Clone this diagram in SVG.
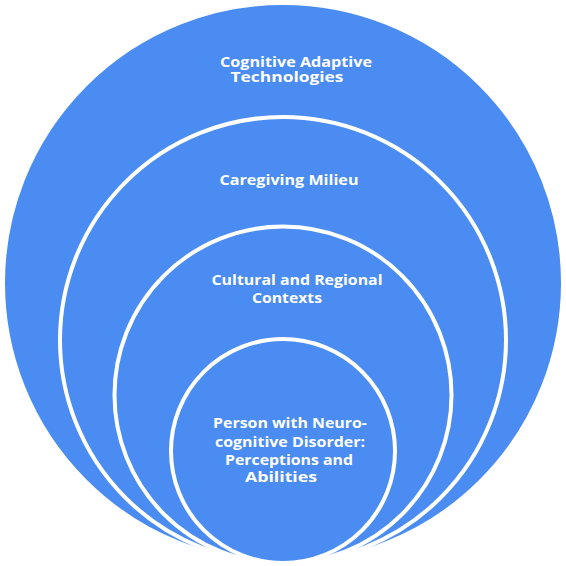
<svg xmlns="http://www.w3.org/2000/svg" width="566" height="566" viewBox="0 0 566 566">
  <defs>
    <style>
      .ring { fill: #4a8cf1; stroke: #ffffff; stroke-width: 4; }
      .lbl { fill: #ffffff; font-family: "Open Sans", "Liberation Sans", sans-serif; font-weight: bold; font-size: 15px; text-anchor: middle; }
    </style>
  </defs>
  <rect width="566" height="566" fill="#ffffff"/>
  <g id="connectors"/>
  <g id="node-technologies">
    <circle class="ring" cx="283" cy="283" r="280"/>
    <text class="lbl" x="296" y="67" textLength="152" lengthAdjust="spacingAndGlyphs">Cognitive Adaptive</text>
    <text class="lbl" x="287" y="82" textLength="113" lengthAdjust="spacingAndGlyphs">Technologies</text>
  </g>
  <g id="node-caregiving">
    <circle class="ring" cx="283" cy="340" r="223"/>
    <text class="lbl" x="289" y="185" textLength="139" lengthAdjust="spacingAndGlyphs">Caregiving Milieu</text>
  </g>
  <g id="node-cultural">
    <circle class="ring" cx="283" cy="395" r="168.5"/>
    <text class="lbl" x="297" y="285" textLength="171" lengthAdjust="spacingAndGlyphs">Cultural and Regional</text>
    <text class="lbl" x="287" y="303" textLength="70" lengthAdjust="spacingAndGlyphs">Contexts</text>
  </g>
  <g id="node-person">
    <circle class="ring" cx="283" cy="451" r="112"/>
    <text class="lbl" x="290" y="428" textLength="154" lengthAdjust="spacingAndGlyphs">Person with Neuro-</text>
    <text class="lbl" x="290" y="447" textLength="150" lengthAdjust="spacingAndGlyphs">cognitive Disorder:</text>
    <text class="lbl" x="289" y="465" textLength="128" lengthAdjust="spacingAndGlyphs">Perceptions and</text>
    <text class="lbl" x="281" y="482" textLength="72" lengthAdjust="spacingAndGlyphs">Abilities</text>
  </g>
</svg>
